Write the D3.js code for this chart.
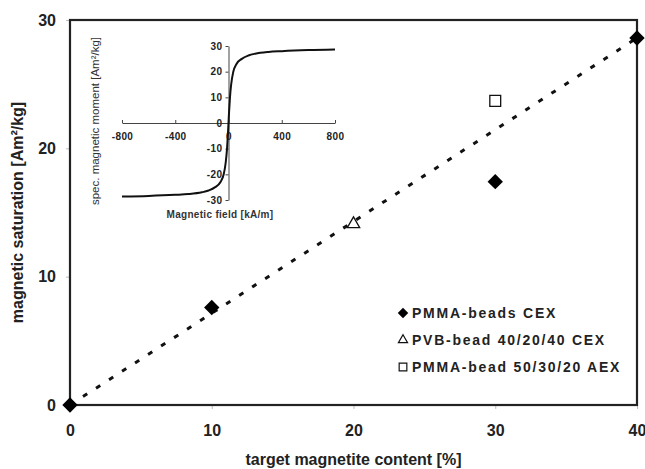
<!DOCTYPE html>
<html>
<head>
<meta charset="utf-8">
<script src="https://cdn.jsdelivr.net/npm/d3@7"></script>
<style>
  body { margin: 0; background: #fff; }
  svg { font-family: "Liberation Sans", Arial, sans-serif; }
  .axis text { fill: #222; font-weight: bold; }
</style>
</head>
<body>
<div id="chart"></div>
<script>
// main chart: magnetic saturation vs target magnetite content
var cexX = [0, 10, 30, 40],
    cexY = [0, 7.6, 17.4, 28.6];
var pvbX = [20], pvbY = [14.1];
var aexX = [30], aexY = [23.7];
var trendX = [0, 40], trendY = [0, 28.6];
var xTicks = [0, 10, 20, 30, 40],
    yTicks = [0, 10, 20, 30];
var legendLabels = ["PMMA-beads CEX", "PVB-bead 40/20/40 CEX", "PMMA-bead 50/30/20 AEX"];

// inset: hysteresis curve
var fieldH = [-800, -600, -400, -300, -200, -150, -100, -60, -36, -20, -11, -5, 0, 5, 11, 20, 36, 60, 100, 150, 200, 300, 400, 600, 800];
var momentM = [-28.6, -28.4, -28.0, -27.7, -27.0, -26.3, -25.0, -23.0, -20.0, -15.0, -10.0, -5.0, 0, 5.0, 10.0, 15.0, 20.0, 23.0, 25.0, 26.3, 27.0, 27.7, 28.0, 28.4, 28.6];
var insetXTicks = [-800, -400, 0, 400, 800],
    insetYTicks = [-30, -20, -10, 0, 10, 20, 30];

var width = 645, height = 469,
    margin = {top: 20, right: 8, bottom: 64, left: 70};

var svg = d3.select("#chart").append("svg")
    .attr("width", width)
    .attr("height", height);

var x = d3.scaleLinear().domain([0, 40]).range([margin.left, width - margin.right]);
var y = d3.scaleLinear().domain([0, 30]).range([height - margin.bottom, margin.top]);

// axes
var xAxis = svg.append("g")
    .attr("class", "axis")
    .attr("transform", "translate(0," + y(0) + ")")
    .call(d3.axisBottom(x).tickValues(xTicks).tickSize(4).tickPadding(16).tickSizeOuter(0));
xAxis.selectAll("text").style("font-size", "16px");

var yAxis = svg.append("g")
    .attr("class", "axis")
    .attr("transform", "translate(" + x(0) + ",0)")
    .call(d3.axisLeft(y).tickValues(yTicks).tickSize(4).tickPadding(10).tickSizeOuter(0));
yAxis.selectAll("text").style("font-size", "16px");

svg.selectAll(".axis .domain").remove();
svg.selectAll(".axis line").attr("stroke", "#bbb");

// frame
svg.append("rect")
    .attr("x", x(0))
    .attr("y", y(30))
    .attr("width", x(40) - x(0))
    .attr("height", y(0) - y(30))
    .attr("fill", "none")
    .attr("stroke", "#222")
    .attr("stroke-width", 2.2);

// titles
svg.append("text")
    .attr("x", (x(0) + x(40)) / 2)
    .attr("y", 465)
    .attr("text-anchor", "middle")
    .style("font-size", "16px")
    .style("font-weight", "bold")
    .attr("fill", "#222")
    .text("target magnetite content [%]");

svg.append("text")
    .attr("transform", "translate(23," + ((y(0) + y(30)) / 2) + ") rotate(-90)")
    .attr("text-anchor", "middle")
    .style("font-size", "16px")
    .style("font-weight", "bold")
    .attr("fill", "#222")
    .text("magnetic saturation [Am²/kg]");

// trend line
svg.append("path")
    .datum(d3.range(trendX.length))
    .attr("fill", "none")
    .attr("stroke", "#111")
    .attr("stroke-width", 3)
    .attr("stroke-dasharray", "5,10.5")
    .attr("d", d3.line().x(function(i) { return x(trendX[i]); }).y(function(i) { return y(trendY[i]); }));

// markers
var diamond = d3.symbol().type(d3.symbolDiamond2);
var triangle = d3.symbol().type(d3.symbolTriangle2);
var square = d3.symbol().type(d3.symbolSquare2);

svg.selectAll(".cex")
    .data(d3.range(cexX.length))
    .enter().append("path")
    .attr("class", "cex")
    .attr("transform", function(i) { return "translate(" + x(cexX[i]) + "," + y(cexY[i]) + ")"; })
    .attr("d", diamond.size(150))
    .attr("fill", "#000");

svg.selectAll(".pvb")
    .data(d3.range(pvbX.length))
    .enter().append("path")
    .attr("class", "pvb")
    .attr("transform", function(i) { return "translate(" + x(pvbX[i]) + "," + y(pvbY[i]) + ")"; })
    .attr("d", triangle.size(110))
    .attr("fill", "#fff")
    .attr("stroke", "#111")
    .attr("stroke-width", 1.3);

svg.selectAll(".aex")
    .data(d3.range(aexX.length))
    .enter().append("path")
    .attr("class", "aex")
    .attr("transform", function(i) { return "translate(" + x(aexX[i]) + "," + y(aexY[i]) + ")"; })
    .attr("d", square.size(150))
    .attr("fill", "#fff")
    .attr("stroke", "#111")
    .attr("stroke-width", 1.3);

// legend
var legend = svg.append("g").attr("transform", "translate(403,313)");
var legendSym = [diamond.size(70)(), triangle.size(60)(), square.size(75)()];
legendLabels.forEach(function(lab, i) {
    var row = legend.append("g").attr("transform", "translate(0," + (i * 27) + ")");
    row.append("path")
        .attr("d", legendSym[i])
        .attr("fill", i === 0 ? "#000" : "#fff")
        .attr("stroke", "#111")
        .attr("stroke-width", i === 0 ? 0 : 1.2);
    row.append("text")
        .attr("x", 9)
        .attr("y", 5)
        .style("font-size", "14px")
        .style("font-weight", "bold")
        .style("letter-spacing", "1.75px")
        .attr("fill", "#222")
        .text(lab);
});

// inset
var xi = d3.scaleLinear().domain([-800, 800]).range([122, 335]);
var yi = d3.scaleLinear().domain([-30, 30]).range([200, 46]);

var ix = svg.append("g")
    .attr("class", "axis inset")
    .attr("transform", "translate(0," + yi(0) + ")")
    .call(d3.axisBottom(xi).tickValues(insetXTicks).tickFormat(String)
        .tickSize(-3).tickPadding(10).tickSizeOuter(0));

var iy = svg.append("g")
    .attr("class", "axis inset")
    .attr("transform", "translate(" + xi(0) + ",0)")
    .call(d3.axisLeft(yi).tickValues(insetYTicks).tickFormat(String)
        .tickSize(3).tickPadding(3).tickSizeOuter(0));

svg.selectAll(".inset text").style("font-size", "10px").style("letter-spacing", "0.4px").attr("fill", "#333");
svg.selectAll(".inset .domain, .inset line").attr("stroke", "#444");

svg.append("path")
    .datum(d3.range(fieldH.length))
    .attr("fill", "none")
    .attr("stroke", "#111")
    .attr("stroke-width", 2)
    .attr("d", d3.line().curve(d3.curveMonotoneX)
        .x(function(i) { return xi(fieldH[i]); })
        .y(function(i) { return yi(momentM[i]); }));

svg.append("text")
    .attr("x", 220)
    .attr("y", 218)
    .attr("text-anchor", "middle")
    .style("font-size", "10px")
    .style("font-weight", "bold")
    .style("letter-spacing", "0.3px")
    .attr("fill", "#333")
    .text("Magnetic field [kA/m]");

svg.append("text")
    .attr("transform", "translate(99,121) rotate(-90)")
    .attr("text-anchor", "middle")
    .style("font-size", "11.5px")
    .attr("fill", "#333")
    .text("spec. magnetic moment [Am²/kg]");
</script>
</body>
</html>
